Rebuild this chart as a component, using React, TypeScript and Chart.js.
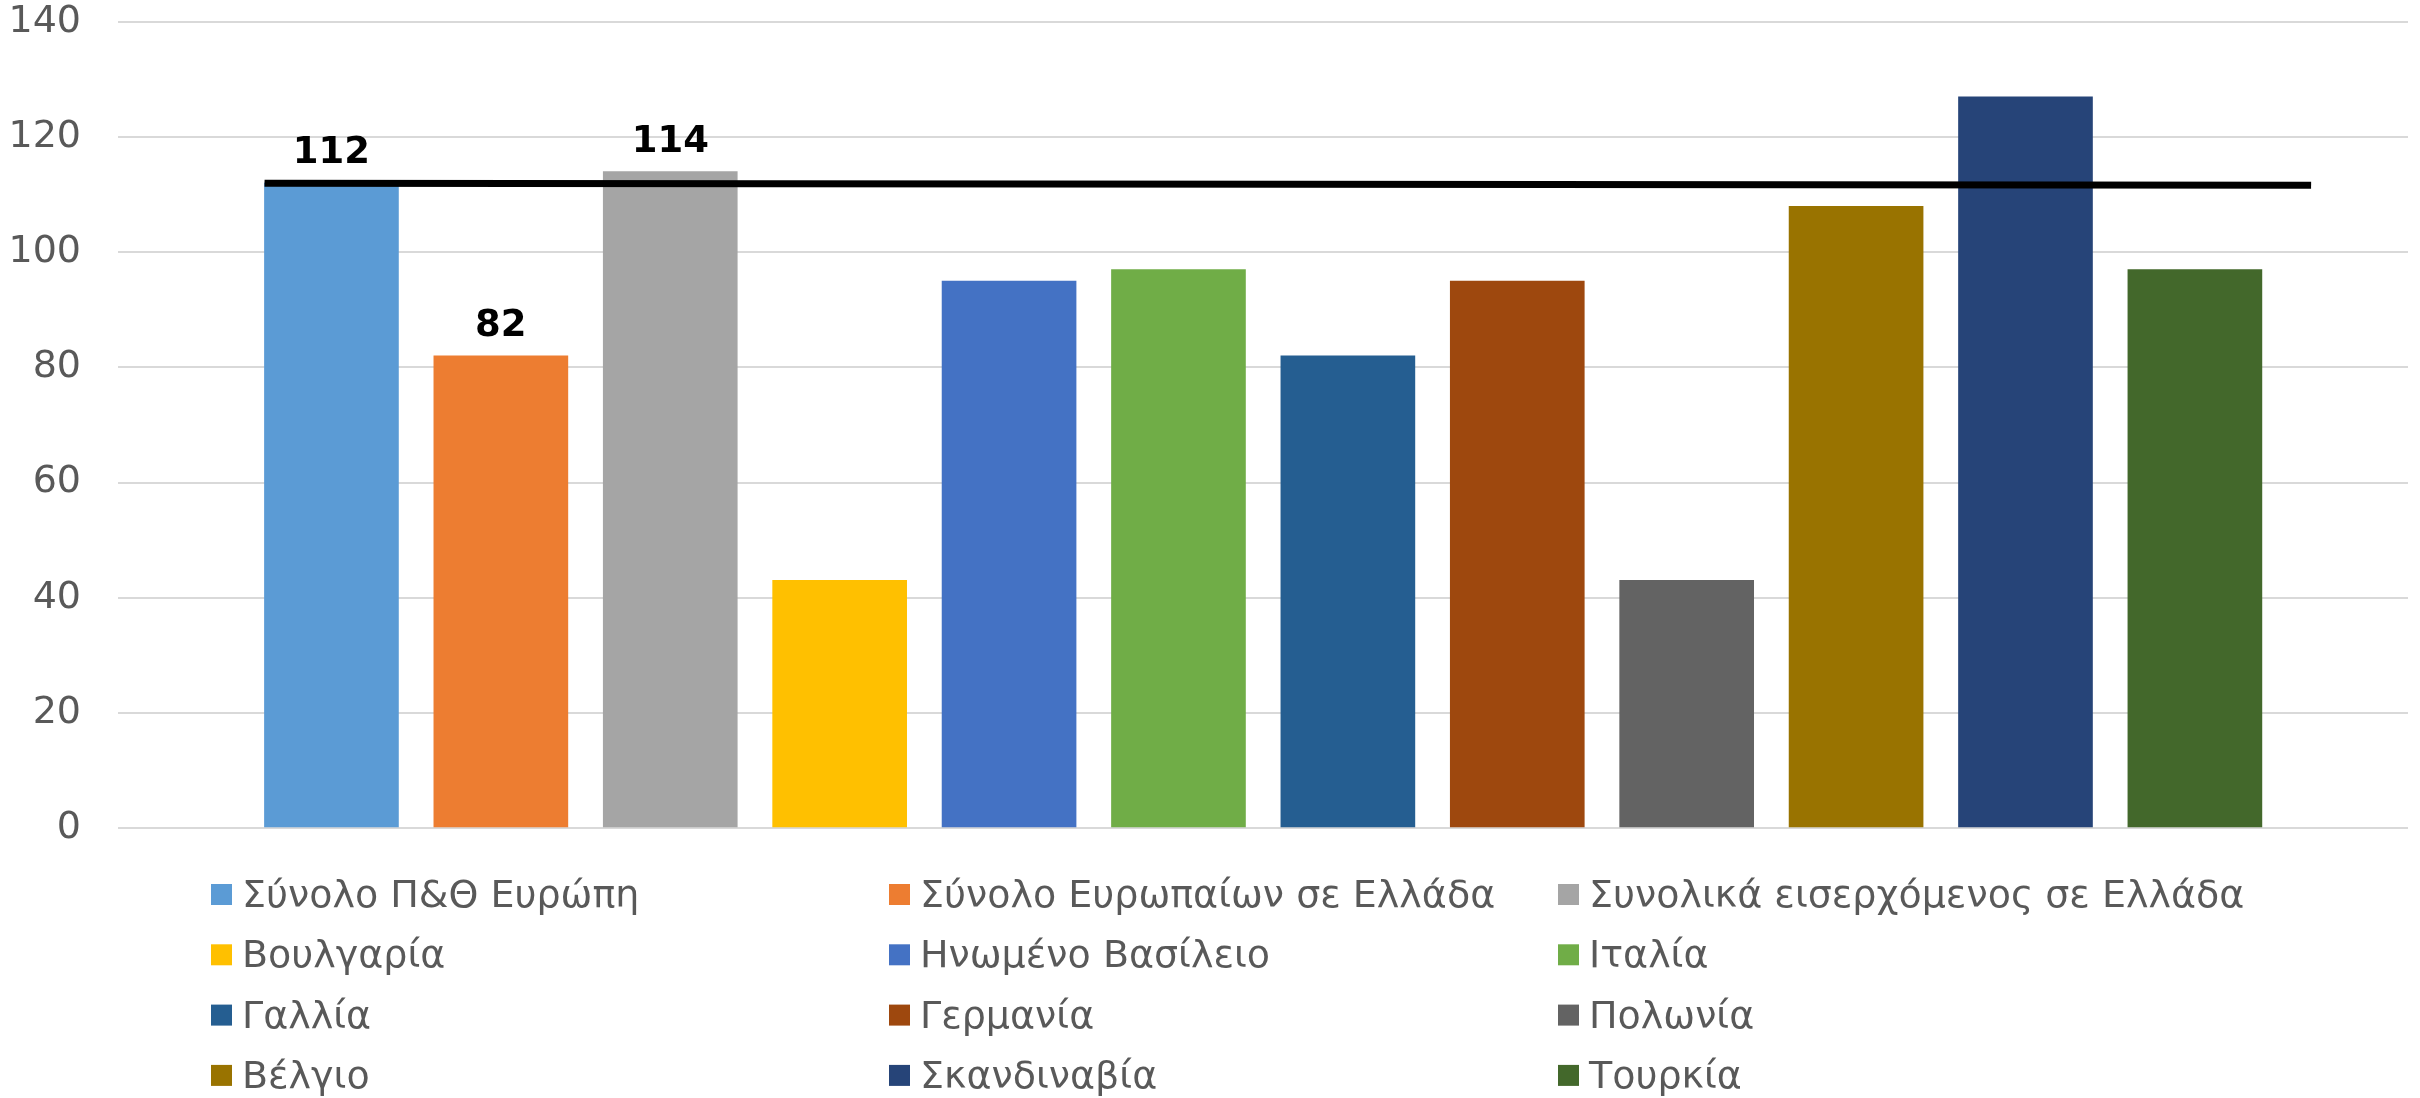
import React, { useEffect, useRef } from "react";
import { Chart, registerables } from "chart.js";

Chart.register(...registerables);

// ---- Data ----
const seriesNames: string[] = [
  "Σύνολο Π&Θ Ευρώπη",
  "Σύνολο Ευρωπαίων σε Ελλάδα",
  "Συνολικά εισερχόμενος σε Ελλάδα",
  "Βουλγαρία",
  "Ηνωμένο Βασίλειο",
  "Ιταλία",
  "Γαλλία",
  "Γερμανία",
  "Πολωνία",
  "Βέλγιο",
  "Σκανδιναβία",
  "Τουρκία",
];
const seriesValues: number[] = [112, 82, 114, 43, 95, 97, 82, 95, 43, 108, 127, 97];
const seriesColors: string[] = [
  "#5B9BD5",
  "#ED7D31",
  "#A5A5A5",
  "#FFC000",
  "#4472C4",
  "#70AD47",
  "#255E91",
  "#9E480E",
  "#636363",
  "#997300",
  "#264478",
  "#43682B",
];
const labeledSeries: number[] = [0, 1, 2];
const refLineX: number[] = [-0.395, 11.686];
const refLineY: number[] = [112, 111.65];
const yTickValues: number[] = [0, 20, 40, 60, 80, 100, 120, 140];

const FONT = '"DejaVu Sans", Verdana, sans-serif';

const overlayPlugin = {
  id: "overlayPlugin",
  afterDraw(chart: any) {
    const ctx = chart.ctx;
    const area = chart.chartArea;
    ctx.save();
    // data labels
    ctx.font = `bold 37px ${FONT}`;
    ctx.fillStyle = "#000000";
    ctx.textAlign = "center";
    ctx.textBaseline = "alphabetic";
    labeledSeries.forEach((i) => {
      const meta = chart.getDatasetMeta(i);
      const el = meta.data[0];
      if (!el) return;
      ctx.fillText(String(seriesValues[i]), el.x, el.y - 20);
    });
    // legend grid
    const cols = [211, 889, 1558];
    const top0 = area.bottom + 56;
    const rowH = 60.3;
    ctx.font = `38px ${FONT}`;
    ctx.textAlign = "left";
    seriesNames.forEach((name, i) => {
      const row = Math.floor(i / 3);
      const col = i % 3;
      const bx = cols[col];
      const by = top0 + row * rowH;
      ctx.fillStyle = seriesColors[i];
      ctx.fillRect(bx, by, 21, 21);
      ctx.fillStyle = "#595959";
      ctx.fillText(name, bx + 31, by + 23);
    });
    ctx.restore();
  },
};

export default function App() {
  const canvasRef = useRef<HTMLCanvasElement | null>(null);

  useEffect(() => {
    if (!canvasRef.current) return;
    const barDatasets = seriesNames.map((name, i) => ({
      type: "bar" as const,
      label: name,
      data: [{ x: i, y: seriesValues[i] }],
      backgroundColor: seriesColors[i],
      borderWidth: 0,
      barThickness: 134,
      grouped: false,
      order: 2,
    }));
    const lineDataset = {
      type: "line" as const,
      label: "ref",
      data: refLineX.map((x, i) => ({ x, y: refLineY[i] })),
      borderColor: "#000000",
      borderWidth: 7,
      borderCapStyle: "butt",
      pointRadius: 0,
      fill: false,
      tension: 0,
      order: 0,
    };
    const chart = new Chart(canvasRef.current, {
      type: "bar",
      data: { datasets: [...barDatasets, lineDataset] as any },
      options: {
        animation: false,
        responsive: false,
        layout: { padding: { top: 22, right: 12, bottom: 270, left: 0 } },
        plugins: {
          legend: { display: false },
          tooltip: { enabled: false },
        },
        scales: {
          x: {
            type: "linear",
            min: -1.26,
            max: 12.258,
            offset: false,
            display: false,
          },
          y: {
            min: 0,
            max: 140,
            afterFit: (scale: any) => {
              scale.width = 118;
              scale.paddingTop = 0;
              scale.paddingBottom = 0;
            },
            afterBuildTicks: (scale: any) => {
              scale.ticks = yTickValues.map((v) => ({ value: v }));
            },
            border: { display: false },
            grid: {
              color: "#D9D9D9",
              lineWidth: 2,
              drawTicks: false,
            },
            ticks: {
              color: "#595959",
              padding: 37,
              font: { family: FONT, size: 38, lineHeight: 1 },
            },
          },
        },
      },
      plugins: [overlayPlugin],
    } as any);
    return () => chart.destroy();
  }, []);

  return (
    <div style={{ position: "absolute", left: 0, top: 0, width: 2420, height: 1098, background: "#ffffff" }}>
      <canvas ref={canvasRef} width={2420} height={1098} style={{ display: "block" }} />
    </div>
  );
}
